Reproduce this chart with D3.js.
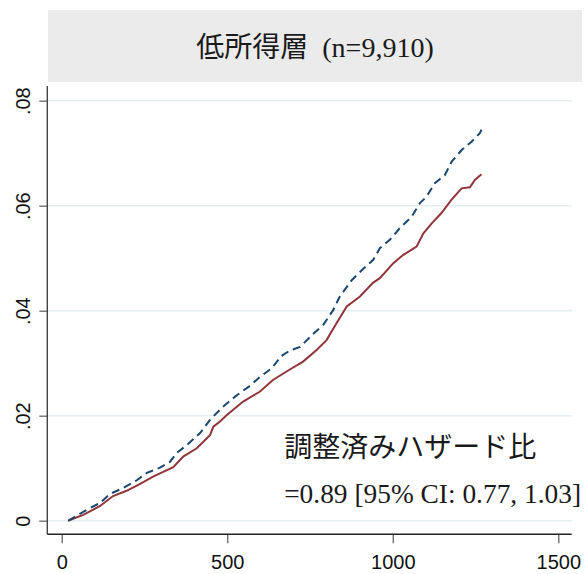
<!DOCTYPE html>
<html>
<head>
<meta charset="utf-8">
<script src="https://cdn.jsdelivr.net/npm/d3@7"></script>
<style>
  html, body { margin: 0; padding: 0; background: #fff; }
  svg { display: block; }
</style>
</head>
<body>
<svg id="chart" width="585" height="574"></svg>
<script>
// Cumulative incidence by days of follow-up, low-income group
const panelTitle = "低所得層  (n=9,910)";
const noteLines = ["調整済みハザード比", "=0.89 [95% CI: 0.77, 1.03]"];

const xTicks = [0, 500, 1000, 1500];
const yTicks = [0, 0.02, 0.04, 0.06, 0.08];

// Reference group (dashed navy)
const refDays = [20, 65, 116, 146, 185, 227, 257, 297, 327, 347, 378, 418, 448, 457, 487, 529, 569, 599, 634, 664, 689, 720, 760, 790, 820, 840, 876, 911, 941, 961, 991, 1021, 1057, 1082, 1102, 1127, 1157, 1178, 1208, 1238, 1263, 1268];
const refRisk = [0, 0.0017, 0.0034, 0.0051, 0.0062, 0.0077, 0.0091, 0.0101, 0.0112, 0.0129, 0.0144, 0.0167, 0.0192, 0.0198, 0.0217, 0.0239, 0.0257, 0.0274, 0.0290, 0.0314, 0.0324, 0.0331, 0.0356, 0.0373, 0.0401, 0.0427, 0.0458, 0.0480, 0.0497, 0.0519, 0.0535, 0.0557, 0.0579, 0.0605, 0.0617, 0.0643, 0.0658, 0.0684, 0.0706, 0.0722, 0.0738, 0.0745];

// Comparison group (solid maroon)
const cmpDays = [19, 65, 116, 155, 196, 237, 276, 337, 367, 408, 448, 458, 478, 498, 548, 599, 638, 689, 729, 770, 800, 830, 861, 901, 940, 961, 1001, 1031, 1072, 1092, 1117, 1147, 1177, 1208, 1233, 1248, 1268];
const cmpRisk = [0, 0.0011, 0.0028, 0.0047, 0.0057, 0.0070, 0.0084, 0.0102, 0.0122, 0.0138, 0.0163, 0.0179, 0.0189, 0.0201, 0.0227, 0.0246, 0.0268, 0.0288, 0.0303, 0.0325, 0.0344, 0.0376, 0.0408, 0.0427, 0.0453, 0.0462, 0.0490, 0.0506, 0.0522, 0.0547, 0.0566, 0.0586, 0.0611, 0.0633, 0.0635, 0.0649, 0.0660];

const svg = d3.select("#chart");
const serif = "'Liberation Serif', 'Times New Roman', 'Noto Sans CJK JP', serif";
const sans = "'Liberation Sans', Arial, sans-serif";

// plot region
const plot = { left: 47.3, right: 571.7, top: 86, bottom: 534.3 };

const x = d3.scaleLinear().domain([0, 1500]).range([61.7, 558.3]);
const y = d3.scaleLinear().domain([0, 0.08]).range([520.7, 100.7]);

// title band
svg.append("rect")
  .attr("x", 48).attr("y", 10)
  .attr("width", 534).attr("height", 72)
  .attr("fill", "#ebebeb");
svg.append("text")
  .attr("x", 315).attr("y", 57)
  .attr("text-anchor", "middle")
  .attr("font-family", serif)
  .attr("font-size", 28)
  .attr("fill", "#1a1a1a")
  .attr("xml:space", "preserve")
  .style("white-space", "pre")
  .text(panelTitle);

// horizontal gridlines
svg.append("g").selectAll("line")
  .data(yTicks)
  .join("line")
  .attr("x1", plot.left).attr("x2", plot.right)
  .attr("y1", d => y(d)).attr("y2", d => y(d))
  .attr("stroke", "#e4edf0")
  .attr("stroke-width", 1.5);

// y axis
const yAxis = svg.append("g")
  .attr("transform", `translate(${plot.left},0)`)
  .call(d3.axisLeft(y).tickValues(yTicks).tickSize(8).tickSizeOuter(0)
    .tickFormat(d => d === 0 ? "0" : d3.format(".2f")(d).replace(/^0/, "")));
yAxis.select(".domain").remove();
yAxis.selectAll(".tick line").attr("stroke", "#666").attr("stroke-width", 1.3);
yAxis.selectAll(".tick text")
  .attr("font-family", sans)
  .attr("font-size", 20)
  .attr("fill", "#111")
  .attr("text-anchor", "middle")
  .attr("x", null).attr("dy", null)
  .attr("transform", "translate(-17.5,0) rotate(-90)");

// x axis
const xAxis = svg.append("g")
  .attr("transform", `translate(0,${plot.bottom})`)
  .call(d3.axisBottom(x).tickValues(xTicks).tickSize(9).tickSizeOuter(0).tickFormat(d3.format("d")));
xAxis.select(".domain").remove();
xAxis.selectAll(".tick line").attr("stroke", "#666").attr("stroke-width", 1.3);
xAxis.selectAll(".tick text")
  .attr("font-family", sans)
  .attr("font-size", 20)
  .attr("fill", "#111")
  .attr("y", 35).attr("dy", null);

// axis lines
svg.append("line")
  .attr("x1", plot.left).attr("x2", plot.left)
  .attr("y1", plot.top).attr("y2", plot.bottom)
  .attr("stroke", "#444").attr("stroke-width", 1.4);
svg.append("line")
  .attr("x1", plot.left).attr("x2", plot.right)
  .attr("y1", plot.bottom).attr("y2", plot.bottom)
  .attr("stroke", "#222").attr("stroke-width", 1.4);

// curves
const line = d3.line()
  .x(d => x(d[0]))
  .y(d => y(d[1]))
  .curve(d3.curveLinear);

svg.append("path")
  .datum(cmpDays.map((d, i) => [d, cmpRisk[i]]))
  .attr("d", line)
  .attr("fill", "none")
  .attr("stroke", "#90353b")
  .attr("stroke-width", 2);

svg.append("path")
  .datum(refDays.map((d, i) => [d, refRisk[i]]))
  .attr("d", line)
  .attr("fill", "none")
  .attr("stroke", "#1a476f")
  .attr("stroke-width", 2)
  .attr("stroke-dasharray", "8,5");

// adjusted hazard ratio note
svg.append("text")
  .attr("x", x(672)).attr("y", y(0.0121))
  .attr("font-family", serif)
  .attr("font-size", 28)
  .attr("fill", "#1a1a1a")
  .text(noteLines[0]);
svg.append("text")
  .attr("x", x(672)).attr("y", y(0.0033))
  .attr("font-family", serif)
  .attr("font-size", 27.4)
  .attr("fill", "#1a1a1a")
  .text(noteLines[1]);
</script>
</body>
</html>
